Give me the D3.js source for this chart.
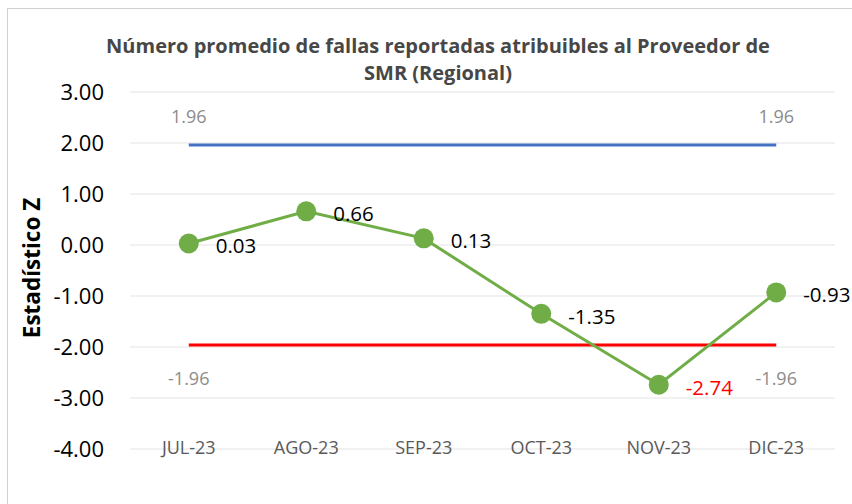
<!DOCTYPE html>
<html>
<head>
<meta charset="utf-8">
<script src="https://cdn.jsdelivr.net/npm/d3@7"></script>
<style>
  body { margin: 0; background: #fff; }
  text { font-family: "Open Sans", sans-serif; }
</style>
</head>
<body>
<svg id="chart" width="852" height="504"></svg>
<script>
// data
var months = ["JUL-23", "AGO-23", "SEP-23", "OCT-23", "NOV-23", "DIC-23"];
var zValues = [0.03, 0.66, 0.13, -1.35, -2.74, -0.93];
var upperLimit = [1.96, 1.96, 1.96, 1.96, 1.96, 1.96];
var lowerLimit = [-1.96, -1.96, -1.96, -1.96, -1.96, -1.96];
var yTicks = [3, 2, 1, 0, -1, -2, -3, -4];
var titleLines = ["Número promedio de fallas reportadas atribuibles al Proveedor de", "SMR (Regional)"];

var svg = d3.select("#chart");
var fmt = function(d){ return d.toFixed(2); };

// chart frame
svg.append("rect")
  .attr("x", 7.5).attr("y", 8.5)
  .attr("width", 850).attr("height", 500)
  .attr("fill", "none").attr("stroke", "#d0d0d0");

var x = d3.scaleBand().domain(months).range([130, 835]);
var y = d3.scaleLinear().domain([-4, 3]).range([449, 92]);

// gridlines
svg.append("g").selectAll("line")
  .data(yTicks).enter().append("line")
  .attr("x1", 130).attr("x2", 835)
  .attr("y1", function(d){ return y(d); })
  .attr("y2", function(d){ return y(d); })
  .attr("stroke", "#e3e3e3").attr("stroke-width", 1);

// y tick labels
var yAxis = d3.axisLeft(y).tickValues(yTicks).tickSize(0).tickPadding(0).tickFormat(fmt);
var gy = svg.append("g").attr("transform", "translate(104,0)").call(yAxis);
gy.select(".domain").remove();
gy.selectAll("text").attr("font-size", 22).attr("fill", "#000")
  .style("font-family", "'Open Sans', sans-serif");

// x tick labels
var xAxis = d3.axisBottom(x).tickSize(0).tickPadding(0);
var gx = svg.append("g").attr("transform", "translate(0,441)").call(xAxis);
gx.select(".domain").remove();
gx.selectAll("text").attr("font-size", 18).attr("fill", "#595959")
  .style("font-family", "'Open Sans', sans-serif");

// title
svg.append("text")
  .attr("text-anchor", "middle").attr("dominant-baseline", "central")
  .attr("font-size", 20).attr("font-weight", "bold").attr("fill", "#474747")
  .selectAll("tspan").data(titleLines).enter().append("tspan")
  .attr("x", 438).attr("y", function(d, i){ return 45 + i * 27; })
  .text(function(d){ return d; });

// axis title
svg.append("text")
  .attr("transform", "translate(31,268) rotate(-90)")
  .attr("text-anchor", "middle").attr("dominant-baseline", "central")
  .attr("font-size", 22.5).attr("font-weight", "bold").attr("fill", "#000")
  .text("Estadístico Z");

var cx = function(d, i){ return x(months[i]) + x.bandwidth() / 2; };

// limit lines
var line = d3.line().x(function(d, i){ return cx(d, i); }).y(function(d){ return y(d); });
svg.append("path").datum(upperLimit).attr("d", line)
  .attr("fill", "none").attr("stroke", "#4472C4").attr("stroke-width", 3);
svg.append("path").datum(lowerLimit).attr("d", line)
  .attr("fill", "none").attr("stroke", "#FF0000").attr("stroke-width", 3);

// limit labels (first and last)
[0, months.length - 1].forEach(function(i) {
  svg.append("text").attr("x", cx(null, i)).attr("y", y(upperLimit[i]) - 29)
    .attr("text-anchor", "middle").attr("dominant-baseline", "central")
    .attr("font-size", 18).attr("fill", "#8c8c8c")
    .text(fmt(upperLimit[i]));
  svg.append("text").attr("x", cx(null, i)).attr("y", y(lowerLimit[i]) + 33)
    .attr("text-anchor", "middle").attr("dominant-baseline", "central")
    .attr("font-size", 18).attr("fill", "#8c8c8c")
    .text(fmt(lowerLimit[i]));
});

// data series
svg.append("path").datum(zValues).attr("d", line)
  .attr("fill", "none").attr("stroke", "#70AD47").attr("stroke-width", 3);
svg.append("g").selectAll("circle").data(zValues).enter().append("circle")
  .attr("cx", cx).attr("cy", function(d){ return y(d); })
  .attr("r", 10).attr("fill", "#70AD47");

// data labels
svg.append("g").selectAll("text").data(zValues).enter().append("text")
  .attr("x", function(d, i){ return cx(d, i) + 27; })
  .attr("y", function(d){ return y(d) + 2; })
  .attr("dominant-baseline", "central")
  .attr("font-size", 20.5)
  .attr("fill", function(d){ return d < -1.96 ? "#FF0000" : "#000"; })
  .text(fmt);
</script>
</body>
</html>
